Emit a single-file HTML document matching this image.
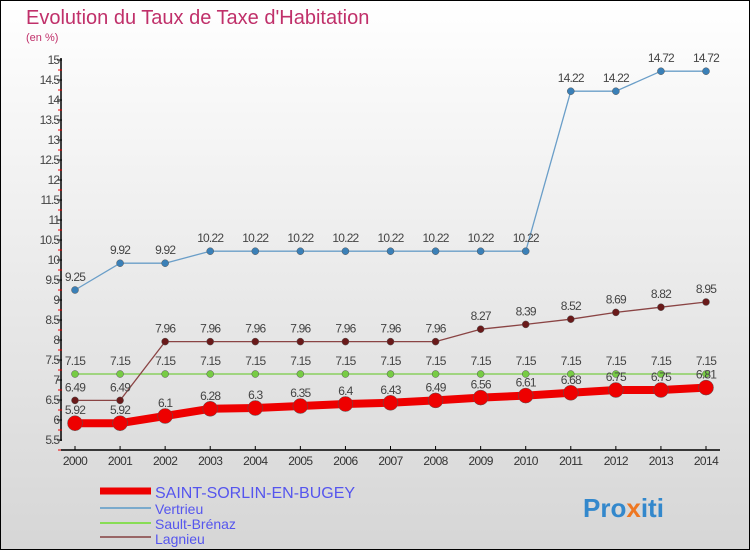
<!DOCTYPE html>
<html><head><meta charset="utf-8"><style>
body{margin:0}
#c{width:750px;height:550px;position:relative;overflow:hidden;font-family:"Liberation Sans",sans-serif}
</style></head><body>
<div id="c">
<svg id="s" width="750" height="550" xmlns="http://www.w3.org/2000/svg">
<defs><linearGradient id="bg" x1="0" y1="0" x2="0" y2="1"><stop offset="0" stop-color="#ffffff"/><stop offset="1" stop-color="#d6d6d6"/></linearGradient></defs>
<rect x="0.5" y="0.5" width="749" height="549" fill="url(#bg)" stroke="#000"/>
<text x="26" y="24" font-size="20" fill="#c0306a">Evolution du Taux de Taxe d'Habitation</text>
<text x="26" y="41" font-size="11" fill="#c0306a">(en %)</text>
<g id="axes"></g><g id="series"></g>
<g>
<line x1="100" y1="491" x2="151" y2="491" stroke="#ee0000" stroke-width="7"/>
<text x="155" y="498" font-size="16" fill="#5555ee">SAINT-SORLIN-EN-BUGEY</text>
<line x1="100" y1="508" x2="151" y2="508" stroke="#7aaacc" stroke-width="2"/>
<text x="155" y="514" font-size="14" fill="#5555ee">Vertrieu</text>
<line x1="100" y1="523" x2="151" y2="523" stroke="#88dd55" stroke-width="2"/>
<text x="155" y="529" font-size="14" fill="#5555ee">Sault-Brénaz</text>
<line x1="100" y1="537" x2="151" y2="537" stroke="#996666" stroke-width="2"/>
<text x="155" y="544" font-size="14" fill="#5555ee">Lagnieu</text>
</g>
<text x="583" y="517" font-size="26" font-weight="bold" fill="#3388cc">Pro<tspan fill="#ee7722">x</tspan>iti</text>
</svg>
</div>
<script>
const years=[2000,2001,2002,2003,2004,2005,2006,2007,2008,2009,2010,2011,2012,2013,2014];
const yTicks=[5.5,6,6.5,7,7.5,8,8.5,9,9.5,10,10.5,11,11.5,12,12.5,13,13.5,14,14.5,15];
const saintSorlin=[5.92,5.92,6.1,6.28,6.3,6.35,6.4,6.43,6.49,6.56,6.61,6.68,6.75,6.75,6.81];
const vertrieu=[9.25,9.92,9.92,10.22,10.22,10.22,10.22,10.22,10.22,10.22,10.22,14.22,14.22,14.72,14.72];
const saultBrenaz=[7.15,7.15,7.15,7.15,7.15,7.15,7.15,7.15,7.15,7.15,7.15,7.15,7.15,7.15,7.15];
const lagnieu=[6.49,6.49,7.96,7.96,7.96,7.96,7.96,7.96,7.96,8.27,8.39,8.52,8.69,8.82,8.95];
const NS="http://www.w3.org/2000/svg";
const xs=i=>75+i*(631/14);
const ys=v=>60+(15-v)*40;
function mk(tag,at,parent){const e=document.createElementNS(NS,tag);for(const k in at)e.setAttribute(k,at[k]);parent.appendChild(e);return e;}
const ax=document.getElementById('axes'),sg=document.getElementById('series');
let e=mk('line',{x1:61,y1:58,x2:61,y2:441,stroke:'#000','stroke-width':1.5},ax);


yTicks.forEach(v=>{
 const y=ys(v);
 let t=mk('line',{x1:57,y1:y,x2:62,y2:y,stroke:'#000'},ax);
 
 
 let r=mk('line',{x1:58,y1:y+10,x2:62,y2:y+10,stroke:'#e00'},ax);
 
 
 let l=mk('text',{x:59,y:y+4,'text-anchor':'end','font-size':12,fill:'#444','letter-spacing':'-1'},ax);
 l.textContent=String(v);
 
 
});
e=mk('line',{x1:61,y1:450,x2:720,y2:450,stroke:'#000','stroke-width':1.5},ax);


years.forEach((yr,i)=>{
 let t=mk('line',{x1:xs(i),y1:446,x2:xs(i),y2:450,stroke:'#000'},ax);
 
 
 let l=mk('text',{x:xs(i),y:465,'text-anchor':'middle','font-size':12,fill:'#333','letter-spacing':'-0.6'},ax);
 l.textContent=yr;
 
 
});
function series(vals,color,lw,r,dotFill,name,labelColor){
 const g=mk('g',{},sg);
 
 
 const p=mk('polyline',{points:vals.map((v,i)=>xs(i)+','+ys(v)).join(' '),fill:'none',stroke:color,'stroke-width':lw,'stroke-linejoin':'round'},g);
 
 
 vals.forEach((v,i)=>{
  const c=mk('circle',{cx:xs(i),cy:ys(v),r:r,fill:dotFill,stroke:'#555','stroke-width':0.5},g);
  
  
  const t=mk('text',{x:xs(i),y:ys(v)-9,'text-anchor':'middle','font-size':12,fill:labelColor,'letter-spacing':'-0.8'},g);
  t.textContent=String(v);
  
  
 });
}
series(vertrieu,'#6a9ec8',1.3,3.5,'#3a80b8','vertrieu','#444');
series(saultBrenaz,'#77cc44',1.3,3.5,'#77cc44','sault-brenaz','#444');
series(lagnieu,'#8a4444',1.3,3.5,'#6a1a1a','lagnieu','#444');
series(saintSorlin,'#ee0000',8,7.5,'#ee0000','saint-sorlin','#444');
</script>
</body></html>
